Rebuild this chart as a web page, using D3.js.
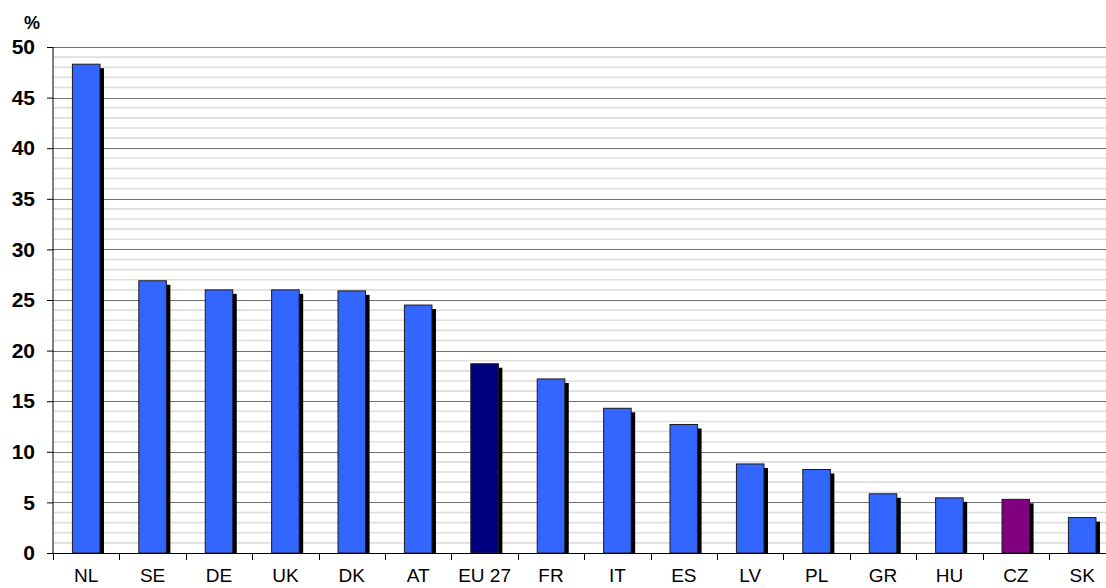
<!DOCTYPE html>
<html>
<head>
<meta charset="utf-8">
<script src="https://cdn.jsdelivr.net/npm/d3@7"></script>
<style>
	body { margin: 0; background: #fff; }
	svg { display: block; font-family: "Liberation Sans", Arial, sans-serif; }
</style>
</head>
<body>
<script>
const countries = ['NL', 'SE', 'DE', 'UK', 'DK', 'AT', 'EU 27', 'FR', 'IT', 'ES', 'LV', 'PL', 'GR', 'HU', 'CZ', 'SK'];
const shares = [48.3, 26.9, 26.0, 26.0, 25.9, 24.5, 18.7, 17.2, 14.3, 12.7, 8.8, 8.25, 5.85, 5.45, 5.3, 3.5];
const yTicks = [0, 5, 10, 15, 20, 25, 30, 35, 40, 45, 50];

const width = 1106, height = 588;
const margins = {left: 53, top: 47, bottom: 35};
const plotRight = 53 + 16 * 66.4;

const barColor = d => d == 'EU 27' ? '#000080' : d == 'CZ' ? '#800080' : '#3366ff';

const svg = d3.select('body').append('svg')
	.attr('width', width)
	.attr('height', height);

const x = d3.scaleBand().domain(countries).range([margins.left, plotRight]);
const y = d3.scaleLinear().domain([0, 50]).range([height - margins.bottom, margins.top]);

// minor grid lines every 1 unit
svg.append('g')
	.selectAll('line')
	.data(d3.range(1, 51).filter(v => v % 5 != 0))
	.enter()
	.append('line')
	.attr('x1', margins.left)
	.attr('x2', width)
	.attr('y1', d => y(d))
	.attr('y2', d => y(d))
	.attr('stroke', '#dedede')
	.attr('stroke-width', 1.6)

// major grid lines
svg.append('g')
	.selectAll('line')
	.data(yTicks.filter(v => v > 0))
	.enter()
	.append('line')
	.attr('x1', margins.left)
	.attr('x2', width)
	.attr('y1', d => Math.round(y(d)) + 0.5)
	.attr('y2', d => Math.round(y(d)) + 0.5)
	.attr('stroke', '#707070')
	.attr('stroke-width', 1)

const barW = x.bandwidth() * 0.415;
const shadow = 4;

let bars = svg.append('g').selectAll('g.bar')
	.data(countries)
	.enter()
	.append('g')
	.attr('class', 'bar');

bars.append('rect')
	.attr('x', d => x(d) + (x.bandwidth() - barW) / 2 + shadow)
	.attr('y', (d, i) => y(shares[i]) + shadow)
	.attr('width', barW)
	.attr('height', (d, i) => y(0) - y(shares[i]) - shadow)
	.attr('fill', '#000')

bars.append('rect')
	.attr('x', d => x(d) + (x.bandwidth() - barW) / 2)
	.attr('y', (d, i) => y(shares[i]))
	.attr('width', barW)
	.attr('height', (d, i) => y(0) - y(shares[i]))
	.attr('fill', d => barColor(d))
	.attr('stroke', '#1a1a1a')
	.attr('stroke-width', 1)

// axes
let yAxis = d3.axisLeft(y).tickValues(yTicks).tickSize(6).tickPadding(12);
let gy = svg.append('g')
	.attr('transform', `translate(${margins.left},0)`)
	.call(yAxis);
gy.select('.domain').attr('stroke', '#000').attr('d', `M0,${y(50)}V${y(0)}`);
gy.selectAll('.tick line').attr('stroke', '#000');
gy.selectAll('.tick text')
	.attr('fill', '#000')
	.style('font-size', '21px')
	.style('font-weight', 'bold')
	.style('font-family', '"Liberation Sans", Arial, sans-serif');

let xAxis = d3.axisBottom(x).tickSize(0).tickPadding(16);
let gx = svg.append('g')
	.attr('transform', `translate(0,${y(0)})`)
	.call(xAxis);
gx.select('.domain').attr('stroke', '#000').attr('d', `M${margins.left},0.5H${width}`);
gx.selectAll('.tick text')
	.attr('fill', '#000')
	.style('font-size', '19px')
	.style('font-family', '"Liberation Sans", Arial, sans-serif');

// separator ticks between categories
svg.append('g')
	.selectAll('line')
	.data(d3.range(0, 17))
	.enter()
	.append('line')
	.attr('x1', d => Math.round(margins.left + d * x.step()) + 0.5)
	.attr('x2', d => Math.round(margins.left + d * x.step()) + 0.5)
	.attr('y1', y(0))
	.attr('y2', y(0) + 7)
	.attr('stroke', '#000')

svg.append('text')
	.attr('x', 32)
	.attr('y', 29)
	.attr('text-anchor', 'middle')
	.style('font-size', '18px')
	.style('font-weight', 'bold')
	.text('%');
</script>
</body>
</html>
